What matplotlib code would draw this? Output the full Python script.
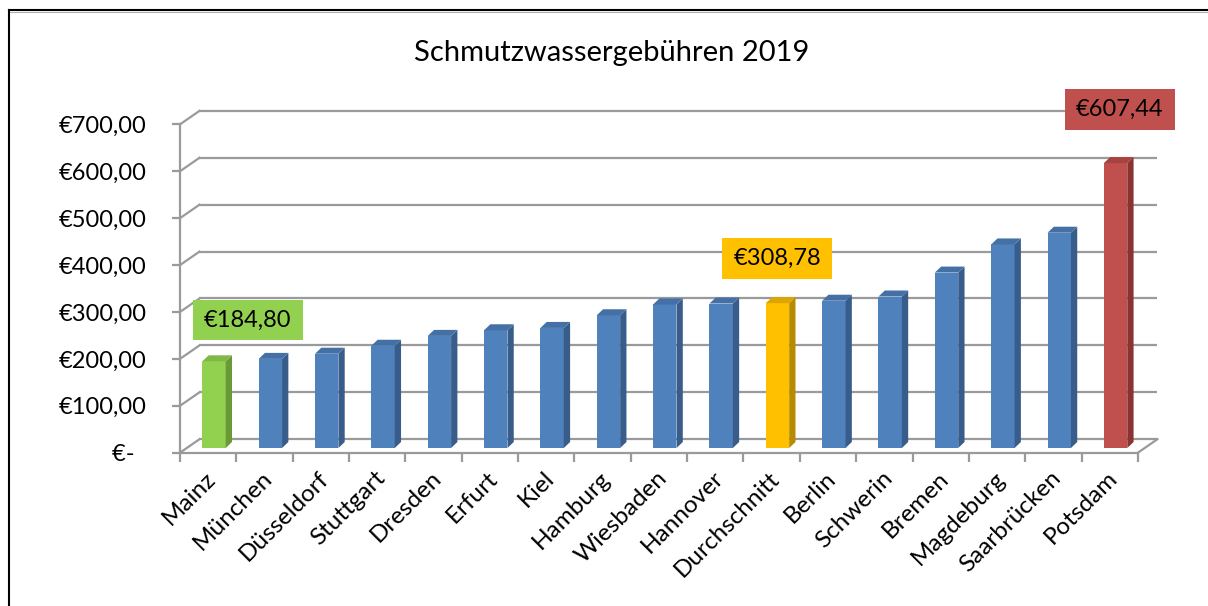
import matplotlib
matplotlib.use('Agg')
import matplotlib.pyplot as plt
from matplotlib.patches import Rectangle, Polygon
from matplotlib.lines import Line2D
from matplotlib.ticker import FixedLocator, FuncFormatter

# Daten
staedte = ['Mainz', 'München', 'Düsseldorf', 'Stuttgart', 'Dresden', 'Erfurt', 'Kiel',
           'Hamburg', 'Wiesbaden', 'Hannover', 'Durchschnitt', 'Berlin', 'Schwerin',
           'Bremen', 'Magdeburg', 'Saarbrücken', 'Potsdam']
gebuehren = [184.80, 190, 201, 218, 239, 251, 256, 283, 306, 308, 308.78,
             314, 323, 374, 434, 459, 607.44]
y_ticks = [0, 100, 200, 300, 400, 500, 600, 700]

# Farben (Vorderseite, Seite, Deckel)
BLAU = ('#4F81BD', '#385D8A', '#4470A6')
FARBEN = {
    'Mainz': ('#92D050', '#6A9A38', '#7FB845'),
    'Durchschnitt': ('#FFC000', '#B88A00', '#DDA500'),
    'Potsdam': ('#C0504D', '#8A3331', '#A64341'),
}
# hervorgehobene Werte: Stadt -> (x-Versatz, y-Position der Box)
LABELS = {'Mainz': (0.60, 283), 'Durchschnitt': (0.0, 414), 'Potsdam': (0.07, 731)}

GRAU = '#9A9A9A'
FONT = 'Lato'

# Pseudo-3D Geometrie (in Datenkoordinaten)
WAND_DX, WAND_DY = 0.346, 28.8
BAR_X0, BAR_W, BAR_BASE = 0.396, 0.415, 10
SEITE_DX, SEITE_DY = 0.112, 12.8

fig = plt.figure(figsize=(12.08, 6.06), dpi=100)
ax = fig.add_axes([180 / 1208, (606 - 452.7) / 606, 1003 / 1208, 347.1 / 606])
ax.set_xlim(0, 17.8)
ax.set_ylim(0, 740)

n = len(staedte)

# Rückwand-Gitterlinien und Diagonalen
for v in y_ticks:
    ax.plot([WAND_DX, n + WAND_DX], [v + WAND_DY, v + WAND_DY], color=GRAU, lw=1.6,
            zorder=1, solid_capstyle='butt')
    ax.plot([0, WAND_DX], [v, v + WAND_DY], color=GRAU, lw=1.6, zorder=1)
ax.plot([n, n + WAND_DX], [0, WAND_DY], color=GRAU, lw=1.6, zorder=1)

# Säulen
for i, (stadt, wert) in enumerate(zip(staedte, gebuehren)):
    front, seite, deckel = FARBEN.get(stadt, BLAU)
    x0 = i + BAR_X0
    x1 = x0 + BAR_W
    oben = BAR_BASE + wert
    ax.bar(x0, wert, width=BAR_W, bottom=BAR_BASE, align='edge', color=front,
           linewidth=0, zorder=3)
    ax.add_patch(Polygon([(x1, BAR_BASE), (x1 + SEITE_DX, BAR_BASE + SEITE_DY),
                          (x1 + SEITE_DX, oben + SEITE_DY), (x1, oben)],
                         closed=True, facecolor=seite, edgecolor='none', zorder=3))
    ax.add_patch(Polygon([(x0, oben), (x1, oben), (x1 + SEITE_DX, oben + SEITE_DY),
                          (x0 + SEITE_DX, oben + SEITE_DY)],
                         closed=True, facecolor=deckel, edgecolor='none', zorder=3))

    if stadt in LABELS:
        dx, ly = LABELS[stadt]
        cx = x0 + BAR_W / 2 + dx
        bw, bh = 1.952, 86.8
        ax.add_patch(Rectangle((cx - bw / 2, ly - bh / 2), bw, bh, facecolor=front,
                               edgecolor='none', zorder=4, clip_on=False))
        txt = '€' + f'{wert:,.2f}'.replace('.', '#').replace(',', '.').replace('#', ',')
        ax.text(cx, ly, txt, ha='center', va='center', fontsize=17, family=FONT,
                color='black', zorder=5, clip_on=False)

# Achsen
for s in ['top', 'right']:
    ax.spines[s].set_visible(False)
for s in ['left', 'bottom']:
    ax.spines[s].set_color(GRAU)
    ax.spines[s].set_linewidth(1.6)
ax.spines['left'].set_bounds(0, 700)
ax.spines['bottom'].set_bounds(0, n)

ax.set_yticks(y_ticks)


def euro(v, pos):
    if v == 0:
        return '€-  '
    return '€' + f'{v:,.2f}'.replace('.', ',')


ax.yaxis.set_major_formatter(FuncFormatter(euro))
ax.tick_params(axis='y', length=6, width=1.6, color=GRAU, pad=18, labelsize=17)

ax.xaxis.set_major_locator(FixedLocator(range(n + 1)))
ax.xaxis.set_minor_locator(FixedLocator([i + 0.58 for i in range(n)]))
ax.set_xticklabels([], minor=False)
ax.set_xticklabels(staedte, minor=True, rotation=45, ha='right', va='center',
                   rotation_mode='anchor')
ax.tick_params(axis='x', which='major', length=6.5, width=1.6, color=GRAU)
ax.tick_params(axis='x', which='minor', length=0, pad=16, labelsize=17.5)
for lbl in ax.get_xticklabels(minor=True) + ax.get_yticklabels():
    lbl.set_family(FONT)

fig.text(612 / 1208, 1 - 61 / 606, 'Schmutzwassergebühren 2019', ha='center',
         va='baseline', fontsize=21, family=FONT)

# Rahmen
fig.add_artist(Line2D([8.5 / 1208, 8.5 / 1208], [0, 1 - 9.5 / 606], color='black', lw=1.5))
fig.add_artist(Line2D([8.5 / 1208, 1], [1 - 9.5 / 606, 1 - 9.5 / 606], color='black', lw=1.5))
fig.add_artist(Line2D([10 / 1208, 1], [1 - 11.5 / 606, 1 - 11.5 / 606], color='#B0B0B0', lw=0.8))

fig.savefig('out.png', dpi=100)
